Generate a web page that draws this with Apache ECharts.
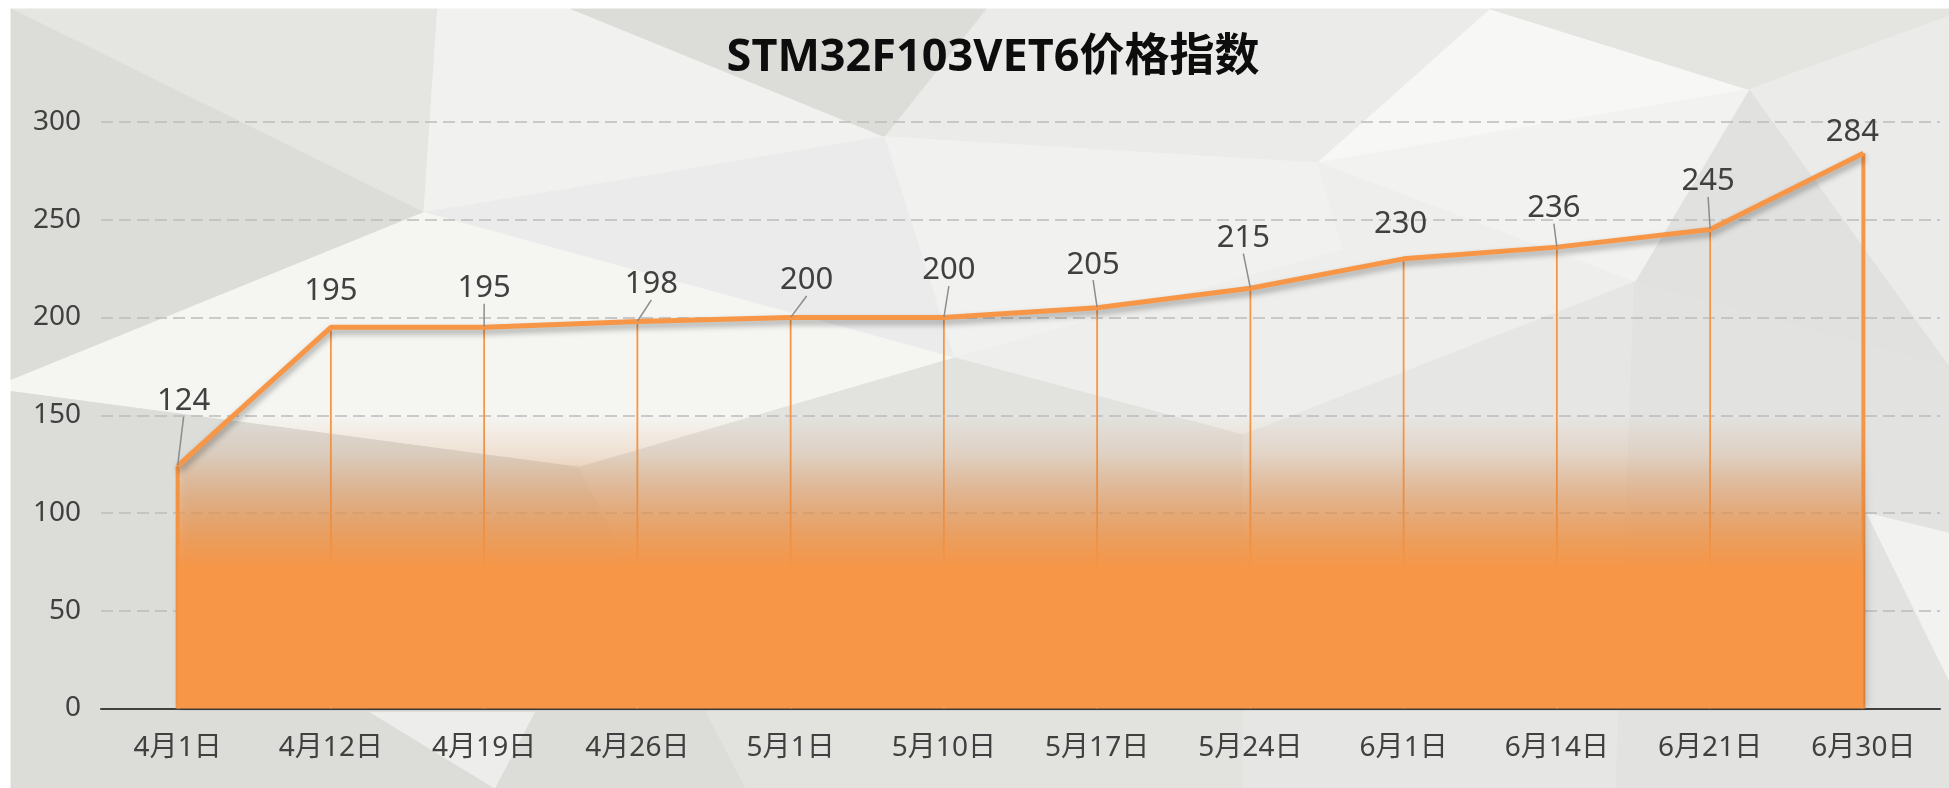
<!DOCTYPE html>
<html>
<head>
<meta charset="utf-8">
<title>STM32F103VET6价格指数</title>
<script src="https://cdn.jsdelivr.net/npm/echarts@6/dist/echarts.min.js"></script>
<style>
html, body { margin: 0; padding: 0; background: #fff; }
#main { width: 1949px; height: 788px; }
</style>
</head>
<body>
<div id="main"></div>
<script>
// 日期
const dates = ['4月1日', '4月12日', '4月19日', '4月26日', '5月1日', '5月10日', '5月17日', '5月24日', '6月1日', '6月14日', '6月21日', '6月30日']
// 价格指数
const prices = [124, 195, 195, 198, 200, 200, 205, 215, 230, 236, 245, 284]
// y轴刻度
const yTicks = [0, 50, 100, 150, 200, 250, 300]

// 数据标签的偏移(像素)和是否画引导线
const labelShift = [[6, -65], [0, -36], [0, -39], [14, -37], [16, -37], [5, -47], [-4, -43], [-7, -50], [-3, -35], [-3, -39], [-2, -48], [-11, -21]]
const showLeader = [true, false, true, true, true, true, true, true, false, true, true, false]

const FONT = "'Noto Sans', 'Noto Sans CJK SC', sans-serif"
const ORANGE = '#F79646'

// 背景的灰色多边形(按缩略图坐标写, 再放大)
const k = 1.243
const bgPolys = [
  ['#e5e5e2', [[8, 7], [352, 7], [341, 171]]],
  ['#dcdcd8', [[8, 7], [341, 171], [8, 306]]],
  ['#f1f1ef', [[352, 7], [460, 7], [712, 110], [341, 171]]],
  ['#dcdcd8', [[460, 7], [794, 7], [712, 110]]],
  ['#ebebe9', [[794, 7], [1199, 7], [1060, 131], [712, 110]]],
  ['#f7f7f5', [[1199, 7], [1407, 72], [1060, 131]]],
  ['#e4e4e1', [[1199, 7], [1568, 7], [1568, 13], [1407, 72]]],
  ['#ebebe9', [[1407, 72], [1568, 13], [1568, 295]]],
  ['#e1e1df', [[1407, 72], [1568, 295], [1315, 227]]],
  ['#f2f2f0', [[1060, 131], [1407, 72], [1315, 227]]],
  ['#ebebeb', [[341, 171], [712, 110], [768, 288]]],
  ['#f1f1ef', [[712, 110], [1060, 131], [1081, 201], [768, 288]]],
  ['#f5f5f2', [[8, 306], [341, 171], [768, 288], [466, 376], [8, 315]]],
  ['#eeeeec', [[1060, 131], [1315, 227], [1000, 350], [768, 288], [1081, 201]]],
  ['#dcdcd9', [[8, 315], [466, 376], [600, 634], [8, 634]]],
  ['#e2e2df', [[466, 376], [768, 288], [1000, 350], [1000, 634], [600, 634]]],
  ['#e6e6e4', [[1000, 350], [1315, 227], [1300, 634], [1000, 634]]],
  ['#e2e2e0', [[1315, 227], [1568, 295], [1568, 634], [1300, 634]]],
  ['#ededeb', [[298, 573], [430, 573], [398, 634]]],
  ['#f2f2f0', [[1502, 413], [1568, 429], [1568, 547]]]
]

let chart = echarts.init(document.getElementById('main'))

const bgElements = [{
  type: 'rect', z: -20,
  shape: { x: 11, y: 9, width: 1938, height: 779 },
  style: { fill: '#e9e9e7' }
}].concat(bgPolys.map(p => ({
  type: 'polygon', z: -10,
  shape: { points: p[1].map(pt => [Math.max(11, pt[0] * k), Math.max(9, pt[1] * k)]) },
  style: { fill: p[0], stroke: p[0], lineWidth: 1 }
})))

const option = {
  backgroundColor: '#fff',
  title: {
    text: 'STM32F103VET6价格指数',
    left: 988,
    top: 31,
    textAlign: 'center',
    textStyle: { fontSize: 45, fontWeight: 'bold', color: '#0d0d0d', fontFamily: FONT }
  },
  graphic: { elements: bgElements },
  grid: { left: 101, right: 9, top: 122, bottom: 79.5 },
  xAxis: {
    type: 'category',
    data: dates,
    boundaryGap: true,
    axisTick: { show: false },
    axisLine: { lineStyle: { color: '#404040', width: 2 } },
    axisLabel: { fontSize: 28, color: '#404040', margin: 26, fontFamily: FONT }
  },
  yAxis: {
    type: 'value',
    min: yTicks[0],
    max: yTicks[yTicks.length - 1],
    interval: yTicks[1] - yTicks[0],
    axisLine: { show: false },
    axisTick: { show: false },
    axisLabel: { fontSize: 28, color: '#404040', margin: 20, fontFamily: FONT },
    splitLine: { lineStyle: { color: '#bcbcbc', width: 1.5, type: [12, 6] } }
  },
  series: [
    {
      // 价格折线 + 渐变面积
      type: 'line',
      data: prices.map((v, i) => ({ value: v, labelLine: { show: showLeader[i] } })),
      symbol: 'circle',
      symbolSize: 1,
      showSymbol: true,
      itemStyle: { color: ORANGE },
      lineStyle: {
        color: ORANGE, width: 5,
        shadowColor: 'rgba(0,0,0,0.35)', shadowBlur: 6, shadowOffsetY: 4, shadowOffsetX: 1
      },
      areaStyle: {
        opacity: 1,
        color: {
          type: 'linear', x: 0, y: 415, x2: 0, y2: 570, global: true,
          colorStops: [
            { offset: 0, color: 'rgba(247,150,70,0)' },
            { offset: 0.25, color: 'rgba(247,150,70,0.15)' },
            { offset: 0.55, color: 'rgba(247,150,70,0.5)' },
            { offset: 0.8, color: 'rgba(247,150,70,0.8)' },
            { offset: 1, color: 'rgba(247,150,70,1)' }
          ]
        },
        shadowColor: 'rgba(0,0,0,0.2)', shadowBlur: 8, shadowOffsetX: 3
      },
      label: { show: true, position: 'inside', fontSize: 31, color: '#404040', fontFamily: FONT },
      labelLine: { show: true, lineStyle: { color: '#8c8c8c', width: 1.5 } },
      labelLayout: p => ({ dx: labelShift[p.dataIndex][0], dy: labelShift[p.dataIndex][1] }),
      z: 3
    },
    {
      // 垂直线
      type: 'custom',
      silent: true,
      data: prices.map((v, i) => [i, v]),
      renderItem: (params, api) => {
        const i = api.value(0)
        const top = api.coord([i, api.value(1)])
        const base = api.coord([i, 0])
        const edge = params.dataIndex === 0 || params.dataIndex === prices.length - 1
        return {
          type: 'line',
          shape: { x1: top[0], y1: top[1], x2: base[0], y2: base[1] },
          style: { stroke: ORANGE, lineWidth: edge ? 4 : 1.8 }
        }
      },
      z: 2
    }
  ]
}

chart.setOption(option)
</script>
</body>
</html>
